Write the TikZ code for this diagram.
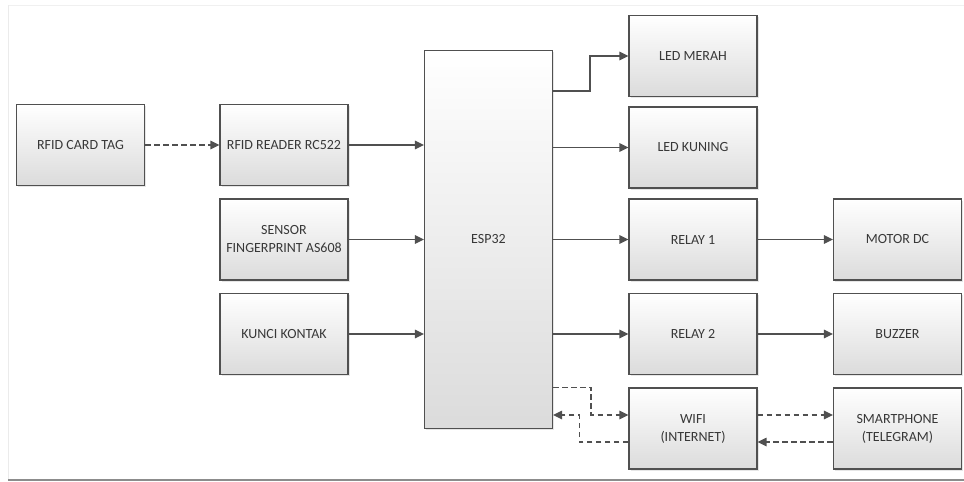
\documentclass[tikz,border=0pt]{standalone}
\usepackage{fontspec}
\setmainfont{Carlito}
\usetikzlibrary{positioning,arrows.meta,calc,shadows}
\definecolor{garis}{HTML}{505050}
\definecolor{teks}{HTML}{383838}

\begin{document}
\begin{tikzpicture}[
  x=1pt, y=-1pt,
  node distance=94.5pt and 204.5pt, % jarak baris dan kolom
  on grid,
  align=center,
  font=\fontsize{14}{18}\selectfont,
  >={Triangle[length=9pt,width=8.5pt]}, % gaya panah
  blok/.style={draw=garis, line width=1.2pt, minimum width=128pt, minimum height=81pt,
    top color=white, bottom color=black!14, text=teks,
    drop shadow={opacity=0.2, shadow xshift=1.5pt, shadow yshift=-1.5pt}},
  panah/.style={->, draw=garis, line width=1.3pt},
  putus/.style={panah, dash pattern=on 5.5pt off 3.5pt}
]
\useasboundingbox (0,0) rectangle (964,482);

% bingkai
\draw[black!6, line width=1pt] (8,5) -- (964,5);
\draw[black!8, line width=1pt] (8,5) -- (8,479);
\draw[black!45, line width=1.6pt] (8,480) -- (964,480);

% kolom masukan
\node (finger) [blok] at (284,239.5) {SENSOR\\FINGERPRINT AS608};
\node (reader) [blok, above=of finger] {RFID READER RC522};
\node (kunci) [blok, below=of finger] {KUNCI KONTAK};
\node (cardtag) [blok, left=203.5pt of reader] {RFID CARD TAG};

% mikrokontroler
\node (esp) [blok, minimum height=378pt, right=of finger] {ESP32};

% kolom keluaran
\node (relay1) [blok, right=of esp] {RELAY 1};
\node (relay2) [blok, below=of relay1] {RELAY 2};
\node (wifi) [blok, below=of relay2] {WIFI\\(INTERNET)};
\node (ledkuning) [blok, above=92pt of relay1] {LED KUNING};
\node (ledmerah) [blok, above=91.5pt of ledkuning] {LED MERAH};

% kolom paling kanan
\node (motor) [blok, right=of relay1] {MOTOR DC};
\node (buzzer) [blok, right=of relay2] {BUZZER};
\node (phone) [blok, right=of wifi] {SMARTPHONE\\(TELEGRAM)};

% titik bantu jalur wifi
\coordinate (wa) at ([yshift=13.5pt]wifi.west);
\coordinate (wb) at ([yshift=-13.5pt]wifi.west);
\coordinate (wc) at ([yshift=13.5pt]wifi.east);
\coordinate (wd) at ([yshift=-13.5pt]wifi.east);

% panah masukan
\draw[putus] (cardtag) -- (reader);
\draw[panah] (reader) -- (reader -| esp.west);
\draw[panah] (finger) -- (finger -| esp.west);
\draw[panah] (kunci) -- (kunci -| esp.west);

% panah keluaran
\draw[panah] (esp.east |- 0,91) -- ++(37,0) |- (ledmerah);
\draw[panah] (esp.east |- ledkuning) -- (ledkuning);
\draw[panah] (esp.east |- relay1) -- (relay1);
\draw[panah] (esp.east |- relay2) -- (relay2);
\draw[panah] (relay1) -- (motor);
\draw[panah] (relay2) -- (buzzer);

% komunikasi wifi
\draw[putus] (esp.east |- wifi.north) -- ++(38,0) |- (wa);
\draw[putus] (wb) -- ++(-49,0) |- (esp.east |- wa);
\draw[putus] (wc) -- (phone.west |- wc);
\draw[putus] (phone.west |- wd) -- (wd);
\end{tikzpicture}
\end{document}
